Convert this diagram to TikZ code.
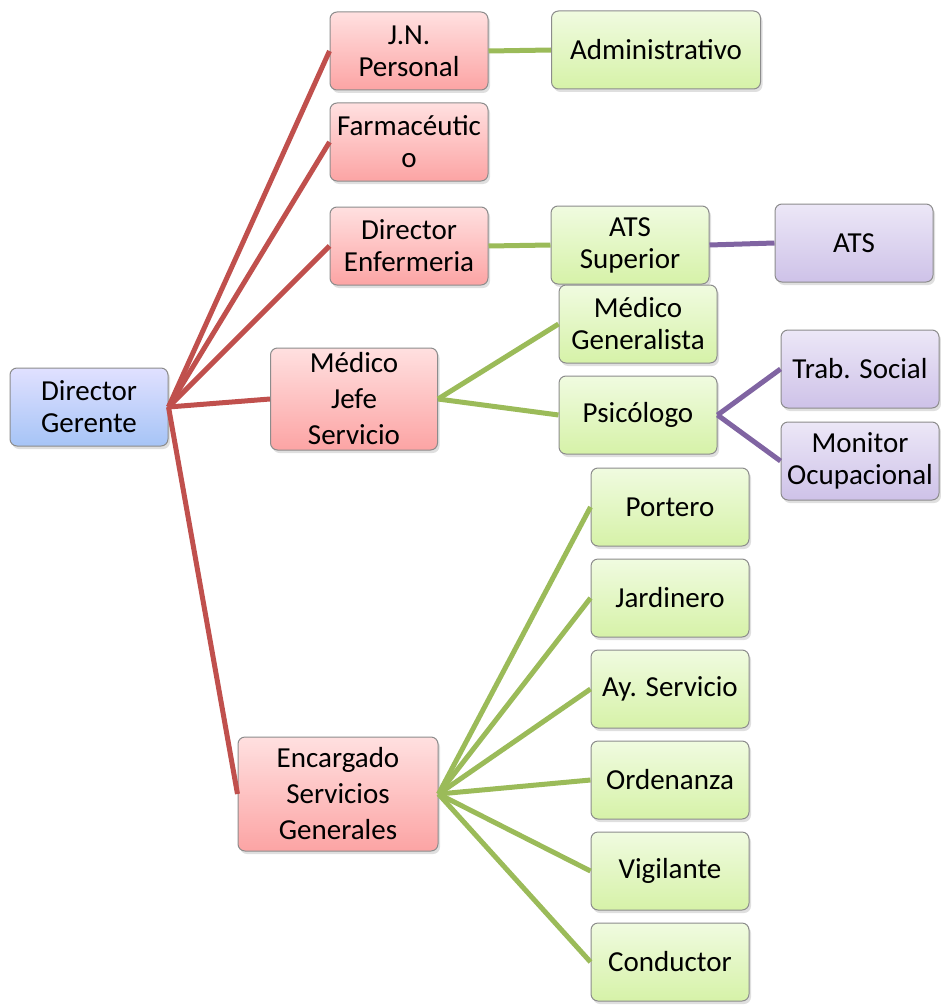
\documentclass[tikz,border=0pt]{standalone}
\usepackage{fontspec}
\setmainfont{Carlito}
\usetikzlibrary{shadows}
\definecolor{redline}{HTML}{C0504D}
\definecolor{greenline}{HTML}{9BBB59}
\definecolor{purpleline}{HTML}{8064A2}
\begin{document}
\begin{tikzpicture}[x=1pt, y=-1pt,
  box/.style={draw=black!45, line width=1pt, rounded corners=7pt, align=center,
    minimum width=158pt, minimum height=78pt, inner sep=1pt,
    font=\fontsize{29}{32}\selectfont,
    drop shadow={opacity=0.25, shadow xshift=2pt, shadow yshift=-3pt}},
  bluebox/.style={box, top color=blue!12, bottom color={rgb,255:red,166;green,196;blue,246}},
  redbox/.style={box, top color={rgb,255:red,255;green,224;blue,224}, bottom color={rgb,255:red,252;green,164;blue,164}},
  greenbox/.style={box, top color={rgb,255:red,240;green,251;blue,224}, bottom color={rgb,255:red,214;green,242;blue,168}},
  purplebox/.style={box, top color={rgb,255:red,236;green,231;blue,247}, bottom color={rgb,255:red,206;green,194;blue,232}},
  tall/.style={font=\fontsize{29}{36}\selectfont},
  redlink/.style={redline, line width=5pt},
  greenlink/.style={greenline, line width=5pt},
  purplelink/.style={purpleline, line width=5pt}]
\useasboundingbox (0,0) rectangle (941,1006);

\node[bluebox] (gerente) at (89,407) {Director\\Gerente};

\node[redbox] (jnpersonal) at (409,51) {J.N.\\Personal};
\node[redbox] (farma) at (409,142) {Farmacéutic\\o};
\node[redbox] (direnf) at (409,246) {Director\\Enfermeria};
\node[redbox, tall, minimum width=167pt, minimum height=102pt] (medjefe) at (354,399) {Médico\\Jefe\\Servicio};
\node[redbox, tall, minimum width=200pt, minimum height=114pt] (encargado) at (338,794) {Encargado\\Servicios\\Generales};

\node[greenbox, minimum width=209pt] (admin) at (656,50) {Administrativo};
\node[greenbox] (atssup) at (630,245) {ATS\\Superior};
\node[greenbox] (medgen) at (638,324) {Médico\\Generalista};
\node[greenbox] (psico) at (638,415) {Psicólogo};
\node[greenbox] (portero) at (670,507) {Portero};
\node[greenbox] (jardinero) at (670,598) {Jardinero};
\node[greenbox] (ayserv) at (670,689) {Ay. Servicio};
\node[greenbox] (ordenanza) at (670,780) {Ordenanza};
\node[greenbox] (vigilante) at (670,871) {Vigilante};
\node[greenbox] (conductor) at (670,962) {Conductor};

\node[purplebox] (ats) at (854,243) {ATS};
\node[purplebox] (trabsocial) at (860,369) {Trab. Social};
\node[purplebox] (monitor) at (860,461) {Monitor\\Ocupacional};

\begin{scope}[on background layer/.try]
\foreach \n in {jnpersonal,farma,direnf,medjefe,encargado}
  \draw[redlink] (gerente.east) -- (\n.west);
\draw[greenlink] (jnpersonal.east) -- (admin.west);
\draw[greenlink] (direnf.east) -- (atssup.west);
\draw[greenlink] (medjefe.east) -- (medgen.west);
\draw[greenlink] (medjefe.east) -- (psico.west);
\foreach \n in {portero,jardinero,ayserv,ordenanza,vigilante,conductor}
  \draw[greenlink] (encargado.east) -- (\n.west);
\draw[purplelink] (atssup.east) -- (ats.west);
\draw[purplelink] (psico.east) -- (trabsocial.west);
\draw[purplelink] (psico.east) -- (monitor.west);
\end{scope}
\end{tikzpicture}
\end{document}
